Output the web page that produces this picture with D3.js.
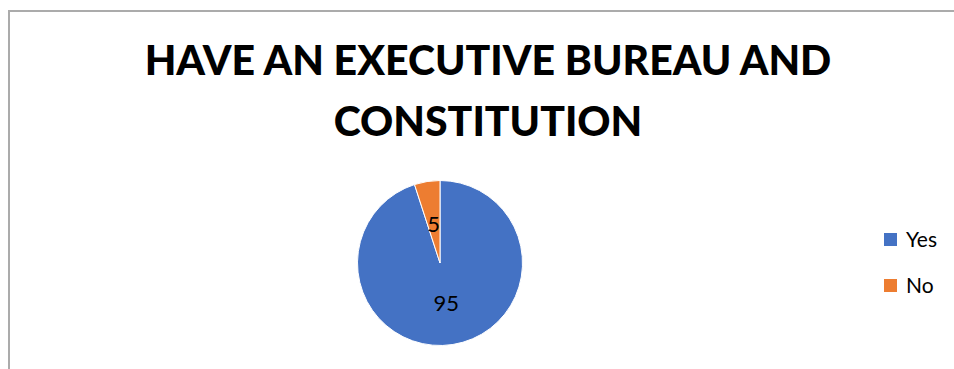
<!DOCTYPE html>
<html>
<head>
<meta charset="utf-8">
<script src="https://cdn.jsdelivr.net/npm/d3@7"></script>
<style>
  html, body { margin: 0; padding: 0; background: #fff; }
  svg { display: block; }
  text { font-family: Lato, "Open Sans", "Liberation Sans", sans-serif; }
</style>
</head>
<body>
<svg id="chart" width="954" height="369"></svg>
<script>
// Survey answers
const categories = ["Yes", "No"];
const values = [95, 5];
const colors = ["#4472C4", "#ED7D31"];
const titleLines = ["HAVE AN EXECUTIVE BUREAU AND", "CONSTITUTION"];

const width = 954, height = 369;
const svg = d3.select("#chart");

// Chart frame
svg.append("rect")
  .attr("x", 9).attr("y", 11)
  .attr("width", width + 10).attr("height", height + 10)
  .attr("fill", "#fff")
  .attr("stroke", "#ababab")
  .attr("stroke-width", 2);

// Title
const title = svg.append("text")
  .attr("text-anchor", "middle")
  .attr("font-weight", 900)
  .attr("font-size", 41)
  .attr("fill", "#000");
title.selectAll("tspan")
  .data(titleLines)
  .join("tspan")
  .attr("x", 488)
  .attr("y", (d, i) => 75 + i * 61)
  .text(d => d);

// Pie
const cx = 440, cy = 263, r = 82.5;
const pie = d3.pie().sort(null).value(d => d.value);
const arcs = pie(categories.map((c, i) => ({ name: c, value: values[i] })));
const arc = d3.arc().innerRadius(0).outerRadius(r);
const color = d3.scaleOrdinal().domain(categories).range(colors);

const g = svg.append("g").attr("transform", `translate(${cx},${cy})`);
g.selectAll("path")
  .data(arcs)
  .join("path")
  .attr("d", arc)
  .attr("fill", d => color(d.data.name))
  .attr("stroke", "#fff")
  .attr("stroke-width", 1);

const labelArc = d3.arc().innerRadius(0).outerRadius(r * 0.98);
g.selectAll("text")
  .data(arcs)
  .join("text")
  .attr("transform", d => `translate(${labelArc.centroid(d)})`)
  .attr("text-anchor", "middle")
  .attr("dominant-baseline", "central")
  .attr("font-size", 22)
  .attr("fill", "#000")
  .text(d => d.data.value);

// Legend
const legend = svg.append("g").attr("transform", "translate(884,233)");
const item = legend.selectAll("g")
  .data(categories)
  .join("g")
  .attr("transform", (d, i) => `translate(0,${i * 46})`);
item.append("rect")
  .attr("width", 13).attr("height", 13)
  .attr("fill", d => color(d));
item.append("text")
  .attr("x", 22).attr("y", 14)
  .attr("font-size", 21)
  .attr("fill", "#000")
  .text(d => d);
</script>
</body>
</html>
